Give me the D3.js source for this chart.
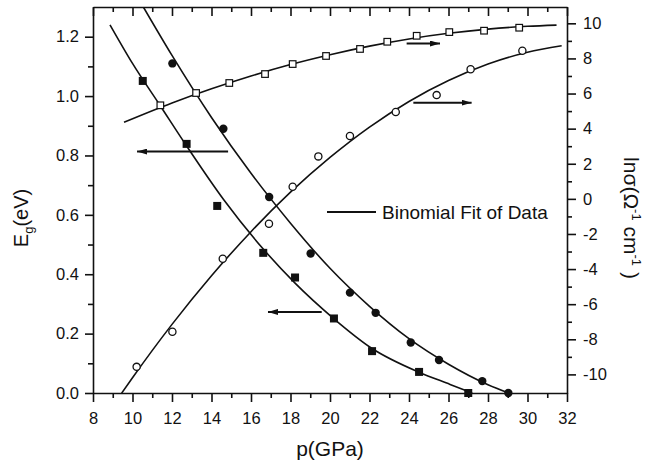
<!DOCTYPE html>
<html>
<head>
<meta charset="utf-8">
<script src="https://cdn.jsdelivr.net/npm/d3@7"></script>
<style>
  body { margin: 0; background: #fff; }
  svg text { font-family: "Liberation Sans", Arial, sans-serif; fill: #111; }
  .axis path, .axis line { stroke: #111; stroke-width: 1.6; }
</style>
</head>
<body>
<div id="chart"></div>
<script>
// measured data - filled squares (Eg, left axis)
var sqX = [10.52, 12.74, 14.29, 16.62, 18.23, 20.20, 22.13, 24.51, 27.0];
var sqY = [1.051, 0.839, 0.630, 0.472, 0.389, 0.251, 0.141, 0.071, 0.0];

// filled circles (Eg, left axis)
var ciX = [12.02, 14.60, 16.92, 19.02, 21.01, 22.31, 24.09, 25.52, 27.71, 29.03];
var ciY = [1.110, 0.890, 0.660, 0.470, 0.338, 0.270, 0.170, 0.111, 0.040, 0.0];

// open circles (ln sigma, right axis)
var ocX = [10.21, 12.02, 14.57, 16.91, 18.11, 19.41, 21.01, 23.33, 25.40, 27.12, 29.74];
var ocY = [-9.57, -7.57, -3.41, -1.42, 0.69, 2.42, 3.58, 4.95, 5.91, 7.38, 8.44];

// open squares (ln sigma, right axis)
var osX = [11.41, 13.22, 14.90, 16.71, 18.11, 19.80, 21.52, 22.90, 24.39, 26.04, 27.80, 29.58];
var osY = [5.33, 6.03, 6.60, 7.11, 7.68, 8.14, 8.54, 8.95, 9.29, 9.50, 9.58, 9.75];

// binomial fit lines
var fitSqX = [8.86, 10, 11.43, 12.71, 14.63, 16.62, 18.23, 20.2, 22.13, 24.51, 26.08, 27.2];
var fitSqY = [1.24, 1.11, 0.965, 0.835, 0.65, 0.485, 0.37, 0.25, 0.15, 0.07, 0.029, 0.0];
var fitCiX = [10.55, 12, 14, 16, 18, 20, 22, 24, 26, 28, 29.05];
var fitCiY = [1.30, 1.137, 0.928, 0.74, 0.572, 0.42, 0.292, 0.183, 0.097, 0.028, 0.0];
var fitOcX = [9.45, 10, 12, 14, 16, 18, 20, 22, 24, 26, 28, 30, 31.73];
var fitOcY = [-11.07, -10.19, -7.15, -4.38, -1.87, 0.38, 2.36, 4.09, 5.55, 6.74, 7.68, 8.35, 8.72];
var fitOsX = [9.57, 12, 14, 16, 18, 20, 22, 24, 26, 28, 30, 31.47];
var fitOsY = [4.36, 5.46, 6.27, 7.00, 7.65, 8.21, 8.70, 9.11, 9.43, 9.67, 9.83, 9.90];

// arrows: [x from, x to, y, axis]
var arrows = [
	[14.84, 10.23, 0.813, "left"],
	[19.58, 16.86, 0.273, "left"],
	[23.88, 25.57, 8.85, "right"],
	[24.22, 27.17, 5.48, "right"]
];

// tick values
var xMajor = [8, 10, 12, 14, 16, 18, 20, 22, 24, 26, 28, 30, 32];
var xMinor = [9, 11, 13, 15, 17, 19, 21, 23, 25, 27, 29, 31];
var yLMajor = [0, 0.2, 0.4, 0.6, 0.8, 1.0, 1.2];
var yLMinor = [0.1, 0.3, 0.5, 0.7, 0.9, 1.1];
var yRMajor = [-10, -8, -6, -4, -2, 0, 2, 4, 6, 8, 10];
var yRMinor = [-9, -7, -5, -3, -1, 1, 3, 5, 7, 9];

var margin = {left: 93, right: 80, top: 7, bottom: 82};
var width = 647 - margin.left - margin.right,
	height = 475 - margin.top - margin.bottom;

var svg = d3.select("#chart").append("svg")
	.attr("width", 647)
	.attr("height", 475);

var canvas = svg.append("g")
	.attr("transform", "translate(" + margin.left + "," + margin.top + ")");

// scales
var x = d3.scaleLinear().domain([8, 32]).range([0, width]);
var yL = d3.scaleLinear().domain([0, 1.3]).range([height, 0]);
var yR = d3.scaleLinear().domain([-11.06, 10.93]).range([height, 0]);

// clip
canvas.append("clipPath").attr("id", "clip")
	.append("rect").attr("width", width).attr("height", height);

// axes
function minor(axis) {
	return axis.tickFormat("").tickSizeOuter(0);
}
var gx = canvas.append("g").attr("class", "axis").attr("transform", "translate(0," + height + ")");
gx.call(d3.axisBottom(x).tickValues(xMajor).tickSize(9).tickSizeOuter(0).tickPadding(10).tickFormat(d3.format("d")));
gx.append("g").call(minor(d3.axisBottom(x).tickValues(xMinor).tickSize(5))).select(".domain").remove();

var gt = canvas.append("g").attr("class", "axis");
gt.call(d3.axisTop(x).tickValues(xMajor).tickSize(-9).tickSizeOuter(0).tickFormat(""));
gt.append("g").call(minor(d3.axisTop(x).tickValues(xMinor).tickSize(-5))).select(".domain").remove();

var gl = canvas.append("g").attr("class", "axis");
gl.call(d3.axisLeft(yL).tickValues(yLMajor).tickSize(8).tickSizeOuter(0).tickPadding(6).tickFormat(d3.format(".1f")));
gl.append("g").call(minor(d3.axisLeft(yL).tickValues(yLMinor).tickSize(5))).select(".domain").remove();

var gr = canvas.append("g").attr("class", "axis").attr("transform", "translate(" + width + ",0)");
gr.call(d3.axisRight(yR).tickValues(yRMajor).tickSize(9).tickSizeOuter(0).tickPadding(7).tickFormat(function(d){ return String(d); }));
gr.append("g").call(minor(d3.axisRight(yR).tickValues(yRMinor).tickSize(5))).select(".domain").remove();

canvas.selectAll(".axis text")
	.attr("font-size", "16.5px")
	.style("font-family", "'Liberation Sans', Arial, sans-serif")
	.attr("fill", "#111");

// axis titles
canvas.append("text")
	.attr("x", width / 2)
	.attr("y", height + 63)
	.attr("font-size", "21px")
	.attr("text-anchor", "middle")
	.text("p(GPa)");

var ylab = canvas.append("text")
	.attr("transform", "translate(" + (28 - margin.left) + "," + (218 - margin.top) + ") rotate(-90)")
	.attr("font-size", "20px")
	.attr("text-anchor", "middle");
ylab.append("tspan").text("E");
ylab.append("tspan").attr("font-size", "13px").attr("dy", 5).text("g");
ylab.append("tspan").attr("dy", -5).text("(eV)");

var rlab = canvas.append("text")
	.attr("transform", "translate(" + (624 - margin.left) + "," + (218 - margin.top) + ") rotate(90)")
	.attr("font-size", "21px")
	.attr("text-anchor", "middle");
rlab.append("tspan").text("ln\u03c3(\u03a9");
rlab.append("tspan").attr("font-size", "13px").attr("dy", -8).text("-1");
rlab.append("tspan").attr("dy", 8).text(" cm");
rlab.append("tspan").attr("font-size", "13px").attr("dy", -8).text("-1");
rlab.append("tspan").attr("dy", 8).text(" )");

// fit lines
var plot = canvas.append("g").attr("clip-path", "url(#clip)");

function drawFit(xs, ys, yScale) {
	var pts = xs.map(function(v, i){ return [v, ys[i]]; });
	plot.append("path")
		.datum(pts)
		.attr("fill", "none")
		.attr("stroke", "#111")
		.attr("stroke-width", 1.6)
		.attr("d", d3.line()
			.x(function(d){ return x(d[0]); })
			.y(function(d){ return yScale(d[1]); })
			.curve(d3.curveMonotoneX));
}
drawFit(fitSqX, fitSqY, yL);
drawFit(fitCiX, fitCiY, yL);
drawFit(fitOcX, fitOcY, yR);
drawFit(fitOsX, fitOsY, yR);

// markers
function pairs(xs, ys) { return xs.map(function(v, i){ return {x: v, y: ys[i]}; }); }

canvas.selectAll(".sq").data(pairs(sqX, sqY)).enter().append("rect")
	.attr("x", function(d){ return x(d.x) - 4; })
	.attr("y", function(d){ return yL(d.y) - 4; })
	.attr("width", 8).attr("height", 8)
	.attr("fill", "#111");

canvas.selectAll(".ci").data(pairs(ciX, ciY)).enter().append("circle")
	.attr("cx", function(d){ return x(d.x); })
	.attr("cy", function(d){ return yL(d.y); })
	.attr("r", 4.2)
	.attr("fill", "#111");

canvas.selectAll(".oc").data(pairs(ocX, ocY)).enter().append("circle")
	.attr("cx", function(d){ return x(d.x); })
	.attr("cy", function(d){ return yR(d.y); })
	.attr("r", 3.6)
	.attr("fill", "#fff")
	.attr("stroke", "#111")
	.attr("stroke-width", 1.3);

canvas.selectAll(".os").data(pairs(osX, osY)).enter().append("rect")
	.attr("x", function(d){ return x(d.x) - 3.3; })
	.attr("y", function(d){ return yR(d.y) - 3.3; })
	.attr("width", 6.6).attr("height", 6.6)
	.attr("fill", "#fff")
	.attr("stroke", "#111")
	.attr("stroke-width", 1.2);

// arrows
svg.append("defs").append("marker")
	.attr("id", "head")
	.attr("viewBox", "0 0 10 6")
	.attr("refX", 10).attr("refY", 3)
	.attr("markerWidth", 10).attr("markerHeight", 6)
	.attr("markerUnits", "userSpaceOnUse")
	.attr("orient", "auto")
	.append("path").attr("d", "M0,0 L10,3 L0,6 Z").attr("fill", "#111");

arrows.forEach(function(a){
	var ys = a[3] == "left" ? yL : yR;
	canvas.append("line")
		.attr("x1", x(a[0])).attr("x2", x(a[1]))
		.attr("y1", ys(a[2])).attr("y2", ys(a[2]))
		.attr("stroke", "#111")
		.attr("stroke-width", 2)
		.attr("marker-end", "url(#head)");
});

// legend
var legend = canvas.append("g")
	.attr("transform", "translate(" + (327 - margin.left) + "," + (212 - margin.top) + ")");
legend.append("line")
	.attr("x1", 0).attr("x2", 49)
	.attr("stroke", "#111").attr("stroke-width", 1.8);
legend.append("text")
	.attr("x", 55).attr("y", 6.5)
	.attr("font-size", "19px")
	.text("Binomial Fit of Data");
</script>
</body>
</html>
